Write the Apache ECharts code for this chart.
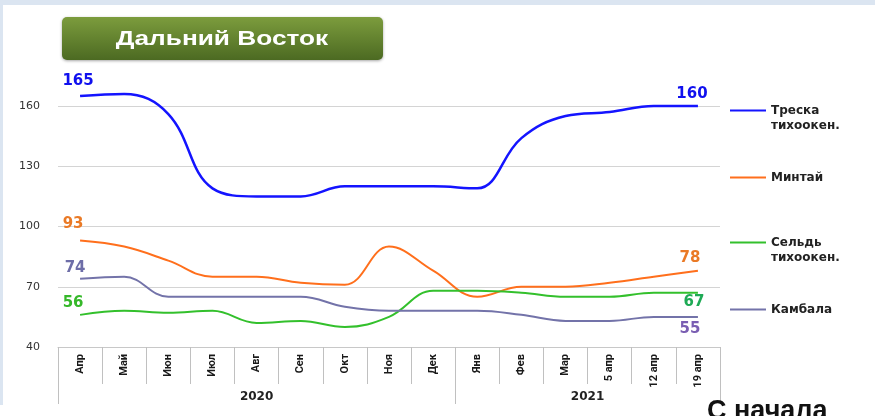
<!DOCTYPE html>
<html>
<head>
<meta charset="utf-8">
<script src="https://cdn.jsdelivr.net/npm/echarts@6/dist/echarts.min.js"></script>
<style>
html,body{margin:0;padding:0;background:#fff;}
#frameTop{position:absolute;left:0;top:0;width:875px;height:5px;background:#dbe5f1;}
#frameLeft{position:absolute;left:0;top:0;width:3px;height:405px;background:#dbe5f1;}
#chart{position:absolute;left:0;top:0;width:875px;height:416px;}
</style>
</head>
<body>
<div id="frameTop"></div><div id="frameLeft"></div>
<div id="chart"></div>
<script>
// ---- data ----
const categories = ['Апр','Май','Июн','Июл','Авг','Сен','Окт','Ноя','Дек','Янв','Фев','Мар','5 апр','12 апр','19 апр'];
const years = ['2020','2021'];
const yearStartIndex = [0, 9];
const seriesNames = ['Треска тихоокен.','Минтай','Сельдь тихоокен.','Камбала'];
const treska  = [165,166,156,119,115,115,120,120,120,119,144,155,157,160,160];
const mintai  = [93,90,83,75,75,72,71,90,78,65,70,70,72,75,78];
const seld    = [56,58,57,58,52,53,50,55,68,68,67,65,65,67,67];
const kambala = [74,75,65,65,65,65,60,58,58,58,56,53,53,55,55];
const yTicks = [40,70,100,130,160];

const chart = echarts.init(document.getElementById('chart'), null, {renderer:'canvas'});

const lblFont = {fontFamily:'DejaVu Sans', fontWeight:'bold', fontSize:15};
function withLabels(values, first, last){
  const n = values.length;
  return values.map((v,i)=>{
    if(i===0) return {value:v, label:Object.assign({show:true}, lblFont, first)};
    if(i===n-1) return {value:v, label:Object.assign({show:true}, lblFont, last)};
    return v;
  });
}

function lineSeries(name, values, color, width, first, last){
  return {
    name, type:'line', data: withLabels(values, first, last),
    smooth:0.4, clip:false, symbol:'circle', symbolSize:0, showSymbol:true,
    color, lineStyle:{color, width}, itemStyle:{color},
    label:{show:false}, emphasis:{disabled:true}, silent:true, z:3
  };
}

const legendText = {fontFamily:'DejaVu Sans', fontWeight:'bold', fontSize:12, color:'#222', lineHeight:15};
function legendFor(name, top, formatter){
  return {show:true, data:[name], left:730, top, padding:0, icon:'rect', itemWidth:36, itemHeight:2,
    selectedMode:false, textStyle:legendText, formatter};
}

const option = {
  animation:false,
  backgroundColor:'transparent',
  grid:{left:58, top:106, width:662, height:241, containLabel:false},
  xAxis:[{
    type:'category', data:categories, boundaryGap:true, position:'bottom',
    axisLine:{show:true, lineStyle:{color:'#c8c8c8', width:1}},
    axisTick:{show:true, interval:0, length:37, lineStyle:{color:'#c0c0c0'}},
    axisLabel:{interval:0, rotate:90, margin:7, color:'#1a1a1a',
      fontFamily:'"Liberation Sans Narrow", Roboto, "Liberation Sans", sans-serif', fontWeight:'bold', fontSize:11}
  },{
    type:'category', data:categories, boundaryGap:true, position:'bottom', offset:0,
    axisLine:{show:false},
    axisTick:{show:true, length:57, interval:(i)=>yearStartIndex.indexOf(i)>=0, lineStyle:{color:'#c0c0c0'}},
    axisLabel:{show:true, margin:44, interval:(i)=>i===4||i===11, color:'#222',
      fontFamily:'DejaVu Sans', fontWeight:'bold', fontSize:12,
      formatter:(v,i)=> i===4 ? years[0] : '{s|'+years[1]+'}',
      rich:{s:{padding:[0,0,0,44], fontFamily:'DejaVu Sans', fontWeight:'bold', fontSize:12, color:'#222'}}
    }
  }],
  yAxis:{
    type:'value', min:yTicks[0], max:yTicks[yTicks.length-1], interval:30,
    axisLine:{show:false}, axisTick:{show:false},
    splitLine:{show:true, lineStyle:{color:'#d4d4d4', width:1}},
    axisLabel:{margin:18, color:'#333', fontFamily:'DejaVu Sans', fontSize:11}
  },
  legend:[
    legendFor(seriesNames[0], 88, ()=>'\nТреска\nтихоокен.'),
    legendFor(seriesNames[1], 170),
    legendFor(seriesNames[2], 220, ()=>'\nСельдь\nтихоокен.'),
    legendFor(seriesNames[3], 302)
  ],
  series:[
    lineSeries(seriesNames[0], treska, '#1414ff', 2.5,
      {position:'top', offset:[-2,-2], color:'#1010ee'}, {position:'top', offset:[-6,1], color:'#1010ee'}),
    lineSeries(seriesNames[1], mintai, '#ff6f1c', 2,
      {position:'top', offset:[-7,-4], color:'#ea7a26'}, {position:'top', offset:[-8,0], color:'#ea7a26'}),
    lineSeries(seriesNames[2], seld, '#33c02c', 2,
      {position:'top', offset:[-7,1], color:'#36b82a'}, {position:'bottom', offset:[-4,-3], color:'#1eaa55'}),
    lineSeries(seriesNames[3], kambala, '#7373a9', 2,
      {position:'top', offset:[-5,2], color:'#6e6ea8'}, {position:'bottom', offset:[-8,0], color:'#7a5eb2'})
  ],
  graphic:[
    {type:'rect', left:62, top:17, z:10, shape:{width:321, height:43, r:5},
      style:{fill:new echarts.graphic.LinearGradient(0,0,0,1,[{offset:0,color:'#7c9c3d'},{offset:1,color:'#4c6a22'}]),
        shadowBlur:3, shadowColor:'rgba(0,0,0,0.35)', shadowOffsetY:1}},
    {type:'text', x:222, y:39, scaleX:1.25, z:12, style:{text:'Дальний Восток', fill:'#fff', align:'center', verticalAlign:'middle',
        font:'bold 21px "Liberation Sans", Arial, sans-serif'}},
    {type:'text', left:707, top:398, z:10, style:{text:'С начала', fill:'#111',
      font:'bold 27px "Liberation Sans", Arial, sans-serif'}}
  ]
};
chart.setOption(option);
</script>
</body>
</html>
